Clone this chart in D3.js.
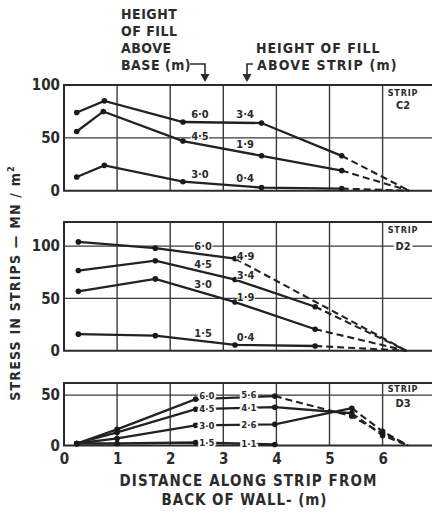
<!DOCTYPE html>
<html>
<head>
<meta charset="utf-8">
<script src="https://cdn.jsdelivr.net/npm/d3@7"></script>
<style>
  body { margin: 0; background: #fff; }
  text { font-family: "DejaVu Sans Condensed", "DejaVu Sans", sans-serif; font-weight: bold; fill: #2b2b2b; }
</style>
</head>
<body>
<div id="chart"></div>
<script>
// distances along strip (m)
var xTicks = [0, 1, 2, 3, 4, 5, 6]

// strip C2: [distance m, stress MN/m2]
var c2Base = ["6·0", "4·5", "3·0"]
var c2Strip = ["3·4", "1·9", "0·4"]
var c2Measured = [
  [[0.24, 74], [0.76, 85], [2.24, 65], [3.72, 64], [5.23, 33]],
  [[0.24, 56], [0.74, 75], [2.24, 47], [3.72, 33], [5.23, 19]],
  [[0.24, 13], [0.76, 24], [2.24, 8.5], [3.72, 3], [5.23, 2]]
]
var c2Extrap = [[[6.5, 0]], [[6.5, 0]], [[6.5, 0]]]

// strip D2
var d2Base = ["6·0", "4·5", "3·0", "1·5"]
var d2Strip = ["4·9", "3·4", "1·9", "0·4"]
var d2Measured = [
  [[0.27, 104], [1.72, 98], [3.22, 88]],
  [[0.27, 76.6], [1.72, 86], [3.22, 68], [4.73, 42]],
  [[0.27, 56.7], [1.72, 68.6], [3.22, 46.5], [4.73, 20.5]],
  [[0.27, 15.8], [1.72, 14.4], [3.22, 5.5], [4.73, 4.5]]
]
var d2Extrap = [[[6.45, 0]], [[6.45, 0]], [[6.45, 0]], [[6.45, 0]]]

// strip D3
var d3Base = ["6·0", "4·5", "3·0", "1·5"]
var d3Strip = ["5·6", "4·1", "2·6", "1·1"]
var d3Measured = [
  [[0.24, 2], [1.0, 16], [2.48, 46], [3.97, 49]],
  [[0.24, 2], [1.0, 13], [2.48, 36], [3.97, 38], [5.42, 32]],
  [[0.24, 2], [1.0, 7], [2.48, 20], [3.97, 21], [5.42, 37]],
  [[0.24, 2], [1.0, 2], [2.48, 3], [3.97, 1]]
]
var d3Extrap = [[[5.42, 29], [6.0, 12], [6.48, 0]], [[6.0, 10], [6.48, 0]], [[6.0, 14], [6.48, 0]], []]

const W = 432, H = 513
var svg = d3.select("#chart").append("svg").attr("width", W).attr("height", H)
var x = d3.scaleLinear().domain([0, 6]).range([64, 382.6])

var panels = [
  {name: "C2", top: 85, bottom: 190.7, ymax: 100, ticks: [0, 50, 100], grid: [50], base: c2Base, strip: c2Strip, meas: c2Measured, ext: c2Extrap, lx: [2.56, 3.41], dy: [-8, -8, -8], fs: 11, inline: false, s1: 8, s2: 20},
  {name: "D2", top: 222, bottom: 350.7, ymax: 123, ticks: [0, 50, 100], grid: [50, 100], base: d2Base, strip: d2Strip, meas: d2Measured, ext: d2Extrap, lx: [2.62, 3.42], dy: [-8, -8, -8, -8], fs: 11, inline: false, s1: 8, s2: 24},
  {name: "D3", top: 383, bottom: 445.5, ymax: 62, ticks: [0, 50], grid: [50], base: d3Base, strip: d3Strip, meas: d3Measured, ext: d3Extrap, lx: [2.69, 3.48], dy: [-3, 0, 0, 0], fs: 9.5, inline: true, s1: 6, s2: 20}
]

// value of a polyline at distance xv
function interp(pts, xv) {
  for (var i = 0; i < pts.length - 1; i++) {
    if (xv >= pts[i][0] && xv <= pts[i + 1][0]) {
      var t = (xv - pts[i][0]) / (pts[i + 1][0] - pts[i][0])
      return pts[i][1] + t * (pts[i + 1][1] - pts[i][1])
    }
  }
  return pts[pts.length - 1][1]
}

panels.forEach(function (p) {
  var y = d3.scaleLinear().domain([0, p.ymax]).range([p.bottom, p.top])
  var g = svg.append("g")

  // grid
  g.selectAll(".hg").data(p.grid).enter().append("line")
    .attr("x1", x(0)).attr("x2", W).attr("y1", d => y(d)).attr("y2", d => y(d))
    .attr("stroke", "#3a3a3a").attr("stroke-width", 1.3)
  g.selectAll(".vg").data(xTicks.slice(1)).enter().append("line")
    .attr("x1", d => x(d)).attr("x2", d => x(d)).attr("y1", p.top).attr("y2", p.bottom)
    .attr("stroke", "#3a3a3a").attr("stroke-width", 1.4)
  // frame
  g.append("path").attr("d", "M" + W + "," + p.top + "H" + x(0) + "V" + p.bottom + "H" + W)
    .attr("fill", "none").attr("stroke", "#2b2b2b").attr("stroke-width", 2)

  // y ticks
  var ax = g.append("g").attr("transform", "translate(" + x(0) + ",0)")
    .call(d3.axisLeft(y).tickValues(p.ticks).tickSize(0).tickPadding(4))
  ax.select(".domain").remove()
  ax.selectAll("text").attr("font-size", 15).attr("font-family", null).style("font-weight", "bold")

  var line = d3.line().x(d => x(d[0])).y(d => y(d[1]))

  p.meas.forEach(function (pts, i) {
    g.append("path").attr("d", line(pts)).attr("fill", "none")
      .attr("stroke", "#222").attr("stroke-width", 2.3)
    if (p.ext[i].length) {
      g.append("path").attr("d", line([pts[pts.length - 1]].concat(p.ext[i]))).attr("fill", "none")
        .attr("stroke", "#222").attr("stroke-width", 2.1).attr("stroke-dasharray", "7,4")
    }
    var marks = pts.concat(p.ext[i].slice(0, -1))
    g.selectAll(null).data(marks).enter().append("circle")
      .attr("cx", d => x(d[0])).attr("cy", d => y(d[1])).attr("r", 2.8).attr("fill", "#1a1a1a")

    var all = pts.concat(p.ext[i])
    var labs = [p.base[i], p.strip[i]]
    labs.forEach(function (t, k) {
      g.append("text").attr("x", x(p.lx[k])).attr("y", y(interp(all, p.lx[k])) + p.dy[i])
        .attr("text-anchor", "middle").attr("dominant-baseline", "central")
        .attr("font-size", p.fs).text(t)
        .attr("stroke", "#fff").attr("stroke-width", p.inline ? 4 : 2).attr("paint-order", "stroke")
    })
  })

  // strip name
  g.append("text").attr("x", 403).attr("y", p.top + p.s1).attr("text-anchor", "middle")
    .attr("dominant-baseline", "central").attr("font-size", 9).attr("letter-spacing", 0.8).text("STRIP")
  g.append("text").attr("x", 403).attr("y", p.top + p.s2).attr("text-anchor", "middle")
    .attr("dominant-baseline", "central").attr("font-size", 11).text(p.name)
    .attr("stroke", "#fff").attr("stroke-width", 5).attr("paint-order", "stroke")
})

// x axis
var xa = svg.append("g").attr("transform", "translate(0,445.5)")
  .call(d3.axisBottom(x).tickValues(xTicks).tickSize(0).tickPadding(8).tickFormat(d3.format("d")))
xa.select(".domain").remove()
xa.selectAll("text").attr("font-size", 15).attr("font-family", null)

svg.append("text").attr("x", 248).attr("y", 486).attr("text-anchor", "middle").attr("font-size", 15)
  .attr("textLength", 257).attr("lengthAdjust", "spacing").text("DISTANCE ALONG STRIP FROM")
svg.append("text").attr("x", 244).attr("y", 505).attr("text-anchor", "middle").attr("font-size", 15)
  .attr("textLength", 165).attr("lengthAdjust", "spacing").text("BACK OF WALL- (m)")

// y title
var yt = svg.append("text").attr("transform", "translate(20,283) rotate(-90)").attr("text-anchor", "middle")
  .attr("font-size", 14).attr("letter-spacing", 1.2)
yt.append("tspan").text("STRESS IN STRIPS — MN / m")
yt.append("tspan").attr("font-size", 9).attr("dy", -6).text("2")

// top notes
var note1 = ["HEIGHT", "OF FILL", "ABOVE", "BASE (m)"]
note1.forEach(function (t, i) {
  svg.append("text").attr("x", 121).attr("y", 19 + i * 17).attr("font-size", 14).attr("letter-spacing", 0.5).text(t)
})
svg.append("text").attr("x", 256).attr("y", 53).attr("font-size", 14).attr("letter-spacing", 0.5)
  .attr("textLength", 124).attr("lengthAdjust", "spacing").text("HEIGHT OF FILL")
svg.append("text").attr("x", 257).attr("y", 70).attr("font-size", 14).attr("letter-spacing", 0.5)
  .attr("textLength", 140).attr("lengthAdjust", "spacing").text("ABOVE STRIP (m)")

svg.append("path").attr("d", "M190,64H205V76M247,76V64H253").attr("fill", "none")
  .attr("stroke", "#2b2b2b").attr("stroke-width", 1.6)
svg.append("path").attr("d", "M200.5,74L209.5,74L205,82ZM242.5,74L251.5,74L247,82Z").attr("fill", "#2b2b2b")
</script>
</body>
</html>
